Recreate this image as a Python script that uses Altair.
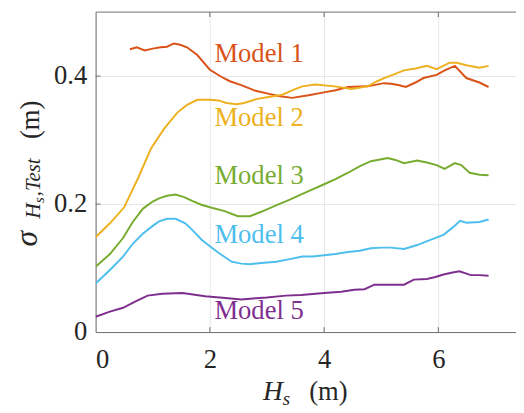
import altair as alt
import pandas as pd

# ---------------- data ----------------
models = ["Model 1", "Model 2", "Model 3", "Model 4", "Model 5"]
colors = ["#D95319", "#EDB120", "#77AC30", "#4DBEEE", "#7E2F8E"]

m1_x = [0.6, 0.72, 0.86, 1.0, 1.14, 1.25, 1.37, 1.48, 1.6, 1.78, 2.0, 2.2, 2.35, 2.55, 2.8, 3.0, 3.2,
        3.44, 3.73, 4.02, 4.2, 4.42, 4.76, 5.05, 5.17, 5.3, 5.43, 5.6, 5.74, 5.97, 6.11, 6.29, 6.49, 6.72, 6.88]
m1_y = [0.442, 0.445, 0.440, 0.443, 0.445, 0.446, 0.451, 0.449, 0.445, 0.433, 0.410, 0.399, 0.392, 0.386,
        0.377, 0.373, 0.369, 0.366, 0.370, 0.375, 0.378, 0.383, 0.384, 0.389, 0.388, 0.386, 0.383, 0.390,
        0.397, 0.402, 0.409, 0.416, 0.397, 0.390, 0.383]

m2_x = [0, 0.25, 0.5, 0.75, 0.97, 1.2, 1.43, 1.6, 1.78, 2.0, 2.15, 2.29, 2.47, 2.6, 2.81, 3.0, 3.27, 3.45,
        3.62, 3.84, 4.19, 4.48, 4.76, 4.93, 5.05, 5.2, 5.4, 5.6, 5.8, 5.97, 6.2, 6.32, 6.49, 6.72, 6.88]
m2_y = [0.148, 0.170, 0.195, 0.242, 0.287, 0.318, 0.343, 0.355, 0.363, 0.363, 0.362, 0.358, 0.356, 0.358,
        0.364, 0.367, 0.371, 0.378, 0.384, 0.387, 0.384, 0.380, 0.384, 0.392, 0.397, 0.402, 0.409, 0.412,
        0.416, 0.411, 0.421, 0.421, 0.417, 0.413, 0.416]

m3_x = [0, 0.25, 0.48, 0.65, 0.83, 1.0, 1.11, 1.25, 1.4, 1.55, 1.69, 1.85, 2.0, 2.26, 2.49, 2.7, 2.9, 3.16,
        3.4, 3.62, 3.8, 4.0, 4.2, 4.42, 4.62, 4.82, 5.05, 5.11, 5.25, 5.4, 5.63, 5.8, 5.97, 6.11, 6.29, 6.4,
        6.55, 6.72, 6.88]
m3_y = [0.102, 0.122, 0.147, 0.172, 0.193, 0.204, 0.209, 0.213, 0.215, 0.211, 0.205, 0.199, 0.195, 0.189,
        0.181, 0.181, 0.188, 0.198, 0.207, 0.216, 0.223, 0.231, 0.239, 0.249, 0.259, 0.267, 0.271, 0.272,
        0.269, 0.264, 0.268, 0.265, 0.261, 0.255, 0.264, 0.261, 0.249, 0.246, 0.245]

m4_x = [0, 0.25, 0.48, 0.65, 0.83, 1.0, 1.11, 1.25, 1.4, 1.57, 1.7, 1.86, 2.0, 2.15, 2.38, 2.55, 2.7, 2.9,
        3.16, 3.4, 3.62, 3.8, 4.0, 4.2, 4.42, 4.62, 4.82, 5.0, 5.17, 5.4, 5.63, 5.86, 6.09, 6.26, 6.38, 6.49,
        6.72, 6.88]
m4_y = [0.076, 0.097, 0.118, 0.138, 0.154, 0.166, 0.173, 0.177, 0.177, 0.170, 0.159, 0.144, 0.134, 0.124,
        0.110, 0.107, 0.106, 0.108, 0.110, 0.114, 0.118, 0.118, 0.120, 0.122, 0.125, 0.127, 0.131, 0.132,
        0.132, 0.130, 0.136, 0.144, 0.152, 0.164, 0.174, 0.171, 0.172, 0.176]

m5_x = [0, 0.25, 0.48, 0.7, 0.91, 1.17, 1.52, 1.92, 2.32, 2.55, 2.81, 3.0, 3.33, 3.6, 4.0, 4.3, 4.53, 4.71,
        4.88, 5.1, 5.4, 5.57, 5.8, 5.95, 6.09, 6.25, 6.37, 6.57, 6.72, 6.88]
m5_y = [0.024, 0.032, 0.038, 0.048, 0.057, 0.060, 0.061, 0.056, 0.053, 0.051, 0.053, 0.054, 0.057, 0.058,
        0.061, 0.063, 0.066, 0.067, 0.074, 0.074, 0.074, 0.082, 0.083, 0.086, 0.090, 0.093, 0.095, 0.089,
        0.089, 0.088]

label_x = [2.08, 2.08, 2.08, 2.08, 2.08]
label_y = [0.434, 0.334, 0.244, 0.152, 0.032]

x_ticks = [0, 2, 4, 6]
y_ticks = [0, 0.2, 0.4]
x_max = 7.36
y_max = 0.5

# ---------------- build ----------------
FONT = "Times New Roman"
FONT_I = "Liberation Serif"
FS = 27
AX = "#6e6e6e"
TXT = "#262626"

series = [(m1_x, m1_y), (m2_x, m2_y), (m3_x, m3_y), (m4_x, m4_y), (m5_x, m5_y)]
rows = []
for name, (xs_, ys_) in zip(models, series):
    for i, (a, b) in enumerate(zip(xs_, ys_)):
        rows.append({"model": name, "hs": a, "sigma": b, "i": i})
df = pd.DataFrame(rows)

xs = alt.Scale(domain=[0, x_max], nice=False, zero=False)
ys = alt.Scale(domain=[0, y_max], nice=False, zero=False)
cscale = alt.Scale(domain=models, range=colors)

lines = alt.Chart(df).mark_line(strokeWidth=2, clip=True).encode(
    x=alt.X("hs:Q", scale=xs, axis=alt.Axis(values=x_ticks, grid=True, gridColor="#e6e6e6", ticks=False,
                                           tickSize=0, domain=True, domainColor=AX, labelFont=FONT,
                                           labelFontSize=FS, labelColor=TXT, labelPadding=15, title=None,
                                           format="~g")),
    y=alt.Y("sigma:Q", scale=ys, axis=alt.Axis(values=y_ticks, grid=True, gridColor="#e6e6e6", ticks=False,
                                              tickSize=0, domain=True, domainColor=AX, labelFont=FONT,
                                              labelFontSize=FS, labelColor=TXT, labelPadding=9, title=None,
                                              format="~g")),
    color=alt.Color("model:N", scale=cscale, legend=None),
    order="i:Q",
)

lab_df = pd.DataFrame({"model": models, "lx": label_x, "ly": label_y})
labels = alt.Chart(lab_df).mark_text(font=FONT, fontSize=FS, align="left", baseline="middle").encode(
    x=alt.X("lx:Q", scale=xs), y=alt.Y("ly:Q", scale=ys), text="model:N",
    color=alt.Color("model:N", scale=cscale, legend=None),
)

# top border and inward ticks
top_df = pd.DataFrame({"x0": [0], "x1": [x_max], "y0": [y_max]})
top = alt.Chart(top_df).mark_rule(color=AX, strokeWidth=1).encode(
    x=alt.X("x0:Q", scale=xs), x2="x1:Q", y=alt.Y("y0:Q", scale=ys))

tick_len_y = 5 / 650
tick_len_x = 5 / 58
xt = [v for v in x_ticks if v > 0]
bt_df = pd.DataFrame({"x": xt + xt, "y0": [0] * len(xt) + [y_max] * len(xt),
                      "y1": [tick_len_y] * len(xt) + [y_max - tick_len_y] * len(xt)})
bticks = alt.Chart(bt_df).mark_rule(color=AX, strokeWidth=1).encode(
    x=alt.X("x:Q", scale=xs), y=alt.Y("y0:Q", scale=ys), y2="y1:Q")
yt = [v for v in y_ticks if v > 0]
lt_df = pd.DataFrame({"y": yt, "x0": [0] * len(yt), "x1": [tick_len_x] * len(yt)})
lticks = alt.Chart(lt_df).mark_rule(color=AX, strokeWidth=1).encode(
    y=alt.Y("y:Q", scale=ys), x=alt.X("x0:Q", scale=xs), x2="x1:Q")


def txt(s, x, y, size, italic=False, angle=0):
    d = pd.DataFrame({"t": [s]})
    return alt.Chart(d).mark_text(font=FONT_I if italic else FONT, fontSize=size,
                                  fontStyle="italic" if italic else "normal",
                                  align="left", baseline="alphabetic", angle=angle, color=TXT).encode(
        x=alt.value(x), y=alt.value(y), text="t:N")


# y title: sigma_{H_s,Test} (m), rotated
ytitle = [
    txt("σ", -60, 238, 32, True, 270),
    txt("H", -56, 210, 22, True, 270),
    txt("s", -52, 194, 15, True, 270),
    txt(",Test", -56, 187, 21, True, 270),
    txt("(m)", -58, 129, FS, False, 270),
]
# x title: H_s (m)
xtitle = [
    txt("H", 170, 394, 28, True),
    txt("s", 190, 399, 19, True),
    txt("(m)", 217, 394, FS, False),
]

chart = alt.layer(lines, top, bticks, lticks, labels, *ytitle, *xtitle).properties(
    width=427, height=325,
    background="white",
    autosize=alt.AutoSizeParams(type="none"),
    padding={"left": 89, "top": 1, "right": 0, "bottom": 79},
).configure_view(stroke=None)

chart.save("out.html", embed_options={"renderer": "svg", "actions": False})
